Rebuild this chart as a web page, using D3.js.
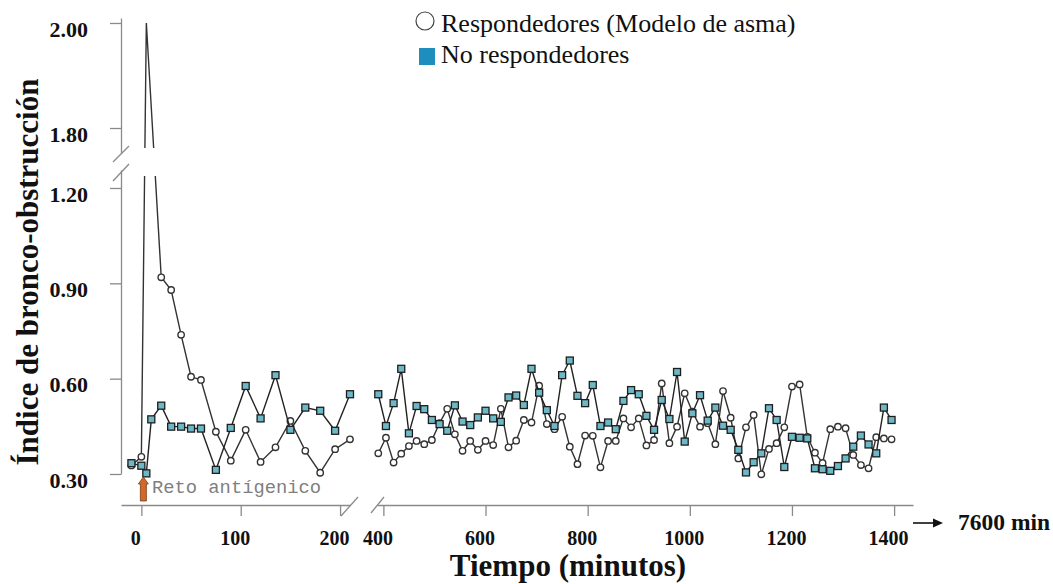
<!DOCTYPE html>
<html>
<head>
<meta charset="utf-8">
<script src="https://cdn.jsdelivr.net/npm/d3@7"></script>
<style>
  body { margin: 0; background: #fff; }
  svg { display: block; }
</style>
</head>
<body>
<svg id="chart" width="1053" height="584"></svg>
<script>
// Time points (minutes), first block and second block
const earlyTimes = [-10, 0, 5, 10, 20, 30, 40, 50, 60, 75, 90, 105, 120, 135, 150, 165, 180, 195, 210];
const lateTimes = [390, 405, 420, 435, 450, 465, 480, 495, 510, 525, 540, 555, 570, 585, 600, 615, 630, 645,
    660, 675, 690, 705, 720, 735, 750, 765, 780, 795, 810, 825, 840, 855, 870, 885, 900, 915, 930, 945,
    960, 975, 990, 1005, 1020, 1035, 1050, 1065, 1080, 1095, 1110, 1125, 1140, 1155, 1170, 1185, 1200,
    1215, 1230, 1245, 1260, 1275, 1290, 1305, 1320, 1335, 1350, 1365, 1380, 1395];

// Responders (asthma model) - circles
const respEarly = [0.327, 0.354, 2.00, null, 0.919, 0.879, 0.738, 0.606, 0.596, 0.433, 0.342, 0.439,
    0.338, 0.384, 0.467, 0.373, 0.304, 0.378, 0.409];
const respLate = [0.365, 0.414, 0.336, 0.364, 0.388, 0.404, 0.394, 0.407, 0.460, 0.505,
    0.425, 0.373, 0.404, 0.376, 0.404, 0.391, 0.505, 0.384, 0.405, 0.470,
    0.462, 0.578, 0.457, 0.441, 0.480, 0.386, 0.331, 0.421, 0.420, 0.321,
    0.404, 0.404, 0.475, 0.447, 0.475, 0.390, 0.407, 0.585, 0.397, 0.449,
    0.554, 0.496, 0.449, 0.460, 0.394, 0.561, 0.477, 0.349, 0.447, 0.486,
    0.299, 0.379, 0.397, 0.447, 0.575, 0.582, 0.417, 0.367, 0.335, 0.441,
    0.449, 0.444, 0.360, 0.328, 0.318, 0.416, 0.412, 0.409];

// Non responders - squares
const noRespEarly = [0.334, 0.326, 0.302, 0.472, 0.515, 0.449, 0.449, 0.443, 0.443, 0.313, 0.445, 0.577,
    0.475, 0.611, 0.439, 0.509, 0.499, 0.436, 0.551];
const noRespLate = [0.551, 0.451, 0.523, 0.631, 0.428, 0.514, 0.504, 0.470, 0.457, 0.436,
    0.516, 0.465, 0.454, 0.478, 0.499, 0.475, 0.464, 0.541, 0.547, 0.517,
    0.631, 0.556, 0.501, 0.451, 0.611, 0.657, 0.546, 0.523, 0.580, 0.451,
    0.462, 0.441, 0.530, 0.564, 0.551, 0.483, 0.439, 0.533, 0.473, 0.621,
    0.402, 0.491, 0.548, 0.468, 0.509, 0.452, 0.439, 0.376, 0.305, 0.337,
    0.365, 0.507, 0.470, 0.322, 0.417, 0.414, 0.412, 0.318, 0.315, 0.310,
    0.325, 0.349, 0.386, 0.421, 0.393, 0.365, 0.509, 0.470];

// Tick labels
const yTicksLow = [0.30, 0.60, 0.90, 1.20];
const yTicksHigh = [1.80, 2.00];
const xTicksEarly = [0, 100, 200];
const xTicksLate = [400, 600, 800, 1000, 1200, 1400];

const svg = d3.select("#chart");
const serif = "'Liberation Serif', 'Times New Roman', serif";
const axisGrey = "#8a8a8a";

// X scales (broken axis: two blocks)
const xEarly = d3.scaleLinear().domain([-20.5, 210]).range([121, 350]);
const xLate = d3.scaleLinear().domain([387.5, 1437]).range([377, 913]);

// Y scales (broken axis: lower 0.30-1.20, upper 1.80-2.00)
const yLow = d3.scaleLinear().domain([0.30, 1.2566]).range([474, 170]);
const yHigh = d3.scaleLinear().domain([1.7524, 2.0095]).range([153, 18]);
const y = d3.scaleLinear()
    .domain(yLow.domain().concat(yHigh.domain()))
    .range(yLow.range().concat(yHigh.range()));

// clip the lines where the y axis is broken
const clip = svg.append("defs").append("clipPath").attr("id", "brk");
clip.append("rect").attr("x", 0).attr("y", 0).attr("width", 1053).attr("height", 148);
clip.append("rect").attr("x", 0).attr("y", 176).attr("width", 1053).attr("height", 420);

// Y axes
const styleY = g => {
    g.select(".domain").attr("stroke", axisGrey).attr("stroke-width", 1.3);
    g.selectAll(".tick line").attr("stroke", axisGrey).attr("stroke-width", 1.3);
    g.selectAll(".tick text")
        .attr("font-family", serif)
        .attr("font-weight", "bold")
        .attr("font-size", 22)
        .attr("fill", "#111")
        .attr("y", 6);
};
svg.append("g")
    .attr("transform", "translate(121,0)")
    .call(d3.axisLeft(yLow).tickValues(yTicksLow).tickFormat(d3.format(".2f"))
        .tickSize(11).tickSizeOuter(0).tickPadding(22))
    .call(styleY);
svg.append("g")
    .attr("transform", "translate(121,0)")
    .call(d3.axisLeft(yHigh).tickValues(yTicksHigh).tickFormat(d3.format(".2f"))
        .tickSize(11).tickSizeOuter(0).tickPadding(22))
    .call(styleY);

// X axes
const styleX = g => {
    g.select(".domain").attr("stroke", axisGrey).attr("stroke-width", 1.3);
    g.selectAll(".tick line").attr("stroke", axisGrey).attr("stroke-width", 1.3);
    g.selectAll(".tick text")
        .attr("font-family", serif)
        .attr("font-weight", "bold")
        .attr("font-size", 20)
        .attr("fill", "#111")
        .attr("x", -6);
};
svg.append("g")
    .attr("transform", "translate(0,505)")
    .call(d3.axisBottom(xEarly).tickValues(xTicksEarly).tickFormat(d3.format("d"))
        .tickSize(11).tickSizeOuter(0).tickPadding(15))
    .call(styleX);
svg.append("g")
    .attr("transform", "translate(0,505)")
    .call(d3.axisBottom(xLate).tickValues(xTicksLate).tickFormat(d3.format("d"))
        .tickSize(11).tickSizeOuter(0).tickPadding(15))
    .call(styleX);

// axis break marks
const breaks = [
    [113, 162, 129, 146], [113, 181, 129, 164],   // y axis
    [341, 516, 358, 497], [371, 513, 384, 497]    // x axis
];
svg.append("g")
    .selectAll("line")
    .data(breaks)
    .enter()
    .append("line")
        .attr("x1", d => d[0]).attr("y1", d => d[1])
        .attr("x2", d => d[2]).attr("y2", d => d[3])
        .attr("stroke", axisGrey)
        .attr("stroke-width", 1.3);

// build point lists
const pts = (times, vals, xs) => times
    .map((t, i) => ({ t, v: vals[i], x: xs(t) }))
    .filter(d => d.v !== null);

const respSegs = [pts(earlyTimes, respEarly, xEarly), pts(lateTimes, respLate, xLate)];
const noRespSegs = [pts(earlyTimes, noRespEarly, xEarly), pts(lateTimes, noRespLate, xLate)];

const line = d3.line().x(d => d.x).y(d => y(d.v));

// Responders line + circles
svg.append("g")
    .attr("clip-path", "url(#brk)")
    .selectAll("path")
    .data(respSegs)
    .enter()
    .append("path")
        .attr("d", line)
        .attr("fill", "none")
        .attr("stroke", "#333")
        .attr("stroke-width", 1.4);

svg.append("g")
    .selectAll("circle")
    .data(respSegs.flat().filter(d => d.v <= 1.2))
    .enter()
    .append("circle")
        .attr("cx", d => d.x)
        .attr("cy", d => y(d.v))
        .attr("r", 3.2)
        .attr("fill", "white")
        .attr("stroke", "#333")
        .attr("stroke-width", 1.4);

// Non responders line + squares
svg.append("g")
    .selectAll("path")
    .data(noRespSegs)
    .enter()
    .append("path")
        .attr("d", line)
        .attr("fill", "none")
        .attr("stroke", "#222")
        .attr("stroke-width", 1.4);

svg.append("g")
    .selectAll("rect")
    .data(noRespSegs.flat())
    .enter()
    .append("rect")
        .attr("x", d => d.x - 3.5)
        .attr("y", d => y(d.v) - 3.5)
        .attr("width", 7)
        .attr("height", 7)
        .attr("fill", "#6cb8c6")
        .attr("stroke", "#1e1e1e")
        .attr("stroke-width", 1.3);

// Legend
svg.append("circle")
    .attr("cx", 425).attr("cy", 21).attr("r", 9)
    .attr("fill", "white").attr("stroke", "#444").attr("stroke-width", 1.2);
svg.append("text")
    .attr("x", 441).attr("y", 32)
    .attr("font-family", serif).attr("font-size", 26).attr("fill", "#111")
    .text("Respondedores (Modelo de asma)");
svg.append("rect")
    .attr("x", 419).attr("y", 48).attr("width", 16).attr("height", 17)
    .attr("fill", "#1d8ebd");
svg.append("text")
    .attr("x", 441).attr("y", 63)
    .attr("font-family", serif).attr("font-size", 26).attr("fill", "#111")
    .text("No respondedores");

// Antigen challenge marker
const ax = xEarly(0) + 2;
svg.append("path")
    .attr("d", `M${ax},477 L${ax + 5},484 L${ax + 3},484 L${ax + 3},501 L${ax - 3},501 L${ax - 3},484 L${ax - 5},484 Z`)
    .attr("fill", "#d2692a")
    .attr("stroke", "#7a3b12")
    .attr("stroke-width", 0.8);
svg.append("text")
    .attr("x", 152).attr("y", 493)
    .attr("font-family", "'Liberation Mono', 'Courier New', monospace")
    .attr("font-size", 18.8)
    .attr("fill", "#7f7f7f")
    .text("Reto antígenico");

// arrow to 7600 min
svg.append("line")
    .attr("x1", 913).attr("y1", 523).attr("x2", 935).attr("y2", 523)
    .attr("stroke", "#111").attr("stroke-width", 1.6);
svg.append("path")
    .attr("d", "M943,523 L933,518.5 L933,527.5 Z")
    .attr("fill", "#111");
svg.append("text")
    .attr("x", 958).attr("y", 530)
    .attr("font-family", serif).attr("font-weight", "bold").attr("font-size", 23.5)
    .attr("fill", "#111")
    .text("7600 min");

// Axis titles
svg.append("text")
    .attr("x", 568).attr("y", 576)
    .attr("text-anchor", "middle")
    .attr("font-family", serif).attr("font-weight", "bold").attr("font-size", 31)
    .attr("fill", "#111")
    .text("Tiempo (minutos)");

svg.append("text")
    .attr("transform", "translate(38,272) rotate(-90)")
    .attr("text-anchor", "middle")
    .attr("font-family", serif).attr("font-weight", "bold").attr("font-size", 31)
    .attr("fill", "#111")
    .text("Índice de bronco-obstrucción");
</script>
</body>
</html>
